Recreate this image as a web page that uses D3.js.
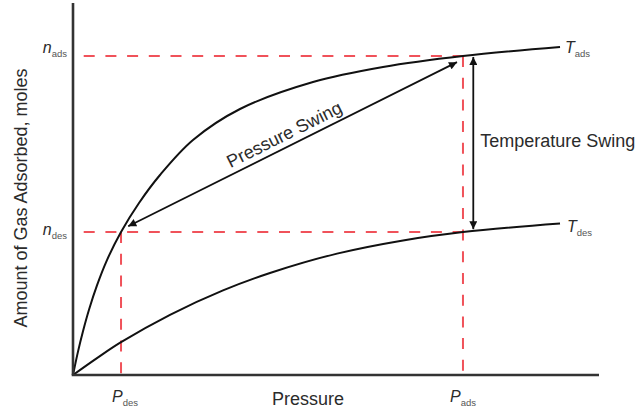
<!DOCTYPE html>
<html>
<head>
<meta charset="utf-8">
<script src="https://cdn.jsdelivr.net/npm/d3@7"></script>
<style>
    body { margin: 0; background: #fff; }
    text { font-family: "Liberation Sans", Arial, Helvetica, sans-serif; fill: #2b2b2b; }
    .curve { fill: none; stroke: #111; stroke-width: 2; }
    .guide { stroke: #f0525a; stroke-width: 2; stroke-dasharray: 11 10.7; fill: none; }
    .swing { stroke: #111; stroke-width: 1.8; }
</style>
</head>
<body>
<svg id="svg1" width="638" height="412"></svg>
<script>
// isotherms (pressure, amount in relative units 0-100)
const pressureAds = [0, 0.95, 1.9, 3.04, 4.56, 6.46, 9.13, 12.55, 16.54, 22.81, 31.75, 45.63, 58.94, 74.14, 92.59];
const amountAds = [0, 6.29, 11.77, 17.55, 24.09, 30.89, 38.44, 46.24, 53.76, 63.17, 71.51, 78.76, 82.8, 85.75, 88.17];
const pressureDes = [0, 4.56, 9.13, 18.44, 28.52, 37.45, 50.19, 62.74, 74.14, 92.59];
const amountDes = [0, 4.54, 8.82, 16.18, 22.74, 27.42, 32.63, 36.18, 38.44, 40.73];

// operating points
const pressureLevels = [9.13, 74.14]; // P_des, P_ads
const amountLevels = [38.44, 85.75]; // n_des, n_ads

// swing arrows
const pressureSwingP = [73.0, 10.5];
const pressureSwingN = [84.1, 40.0];
const tempSwingP = [76.1, 76.1];
const tempSwingN = [85.5, 39.2];

const drawChart = function () {
    const svg = d3.select("#svg1");

    const x = d3.scaleLinear().domain([0, 100]).range([73, 599]);
    const y = d3.scaleLinear().domain([0, 100]).range([375, 3]);

    // arrow head
    svg.append("defs")
        .append("marker")
        .attr("id", "head")
        .attr("viewBox", "0 0 10 10")
        .attr("refX", 10)
        .attr("refY", 5)
        .attr("markerWidth", 10)
        .attr("markerHeight", 8)
        .attr("markerUnits", "userSpaceOnUse")
        .attr("orient", "auto-start-reverse")
        .append("path")
        .attr("d", "M0,0L10,5L0,10Z")
        .attr("fill", "#111");

    const [pDes, pAds] = pressureLevels;
    const [nDes, nAds] = amountLevels;

    // red dashed guides
    const guides = [
        [[0, nAds], [pAds, nAds]],
        [[0, nDes], [pAds, nDes]],
        [[pAds, nAds], [pAds, 0]],
        [[pDes, nDes], [pDes, 0]]
    ];
    svg.selectAll("line.guide")
        .data(guides)
        .enter()
        .append("line")
        .attr("class", "guide")
        .attr("x1", (d) => x(d[0][0]))
        .attr("y1", (d) => y(d[0][1]))
        .attr("x2", (d) => x(d[1][0]))
        .attr("y2", (d) => y(d[1][1]))
        .style("stroke-dashoffset", (d, i) => (i < 2 ? 11 : 0));

    // isotherms
    const line = d3.line()
        .x((d) => x(d[0]))
        .y((d) => y(d[1]))
        .curve(d3.curveCatmullRom.alpha(0.5));

    const ads = d3.zip(pressureAds, amountAds);
    const des = d3.zip(pressureDes, amountDes);

    svg.append("path").attr("class", "curve").attr("d", line(ads));
    svg.append("path").attr("class", "curve").attr("d", line(des));

    // axes (plain lines, no ticks)
    svg.append("line")
        .attr("x1", x(0)).attr("y1", y(0))
        .attr("x2", x(0)).attr("y2", y(100))
        .attr("stroke", "#333").attr("stroke-width", 2.6);
    svg.append("line")
        .attr("x1", x(0) - 1.3).attr("y1", y(0))
        .attr("x2", x(100)).attr("y2", y(0))
        .attr("stroke", "#333").attr("stroke-width", 2.6);

    // swing arrows
    svg.append("line")
        .attr("class", "swing")
        .attr("x1", x(pressureSwingP[0])).attr("y1", y(pressureSwingN[0]))
        .attr("x2", x(pressureSwingP[1])).attr("y2", y(pressureSwingN[1]))
        .attr("marker-start", "url(#head)")
        .attr("marker-end", "url(#head)");
    svg.append("line")
        .attr("class", "swing")
        .attr("x1", x(tempSwingP[0])).attr("y1", y(tempSwingN[0]))
        .attr("x2", x(tempSwingP[1])).attr("y2", y(tempSwingN[1]))
        .attr("marker-start", "url(#head)")
        .attr("marker-end", "url(#head)");

    const angle = Math.atan2(
        y(pressureSwingN[1]) - y(pressureSwingN[0]),
        x(pressureSwingP[1]) - x(pressureSwingP[0])
    ) * 180 / Math.PI + 180;
    svg.append("text")
        .attr("transform", "translate(287,140) rotate(" + angle + ")")
        .attr("text-anchor", "middle")
        .style("font-size", "18px")
        .text("Pressure Swing");

    svg.append("text")
        .attr("x", x(tempSwingP[0]) + 7)
        .attr("y", (y(tempSwingN[0]) + y(tempSwingN[1])) / 2 + 4)
        .style("font-size", "18px")
        .text("Temperature Swing");

    // axis titles
    svg.append("text")
        .attr("x", 308)
        .attr("y", 405)
        .attr("text-anchor", "middle")
        .style("font-size", "18px")
        .text("Pressure");
    svg.append("text")
        .attr("transform", "translate(27,198) rotate(-90)")
        .attr("text-anchor", "middle")
        .style("font-size", "18px")
        .text("Amount of Gas Adsorbed, moles");

    // italic symbol with small subscript
    const symbol = function (px, py, main, sub, anchor) {
        const t = svg.append("text")
            .attr("x", px)
            .attr("y", py)
            .attr("text-anchor", anchor || "start");
        t.append("tspan")
            .style("font-style", "italic")
            .style("font-size", "16px")
            .text(main);
        t.append("tspan")
            .attr("dy", 4)
            .style("font-size", "9.5px")
            .style("fill", "#555")
            .text(sub);
    };

    symbol(x(0) - 6, y(nAds) - 3, "n", "ads", "end");
    symbol(x(0) - 6, y(nDes) + 3, "n", "des", "end");
    symbol(x(pDes) - 9, 402, "P", "des");
    symbol(x(pAds) - 13, 402, "P", "ads");

    const lastAds = ads[ads.length - 1];
    const lastDes = des[des.length - 1];
    symbol(x(lastAds[0]) + 5, y(lastAds[1]) + 6, "T", "ads");
    symbol(x(lastDes[0]) + 7, y(lastDes[1]) + 9, "T", "des");
};
drawChart();
</script>
</body>
</html>
